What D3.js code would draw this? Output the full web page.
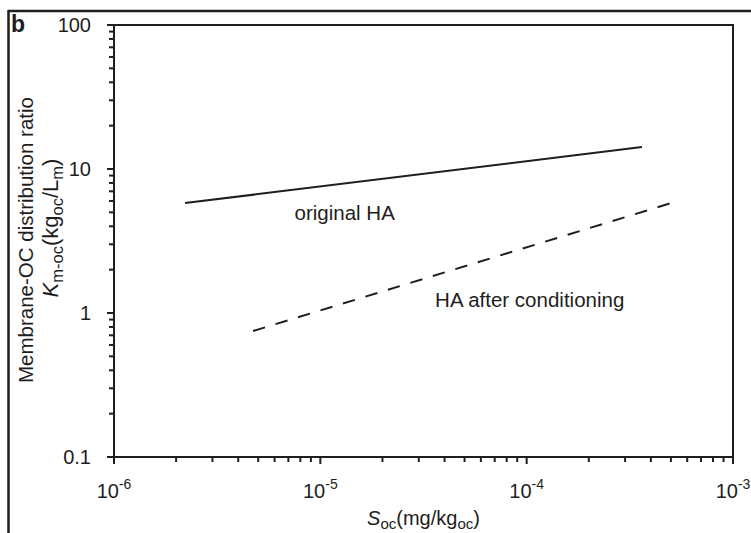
<!DOCTYPE html>
<html>
<head>
<meta charset="utf-8">
<script src="https://cdn.jsdelivr.net/npm/d3@7"></script>
<style>
  html, body { margin: 0; padding: 0; background: #fff; }
  svg { display: block; font-family: "Liberation Sans", Arial, Helvetica, sans-serif; }
</style>
</head>
<body>
<svg id="chart" width="751" height="533"></svg>
<script>
// ---- data ----
const xDomain = [1e-6, 1e-3];
const yDomain = [0.1, 100];
const xTickExponents = ["-6", "-5", "-4", "-3"];
const yTickLabels = ["0.1", "1", "10", "100"];

const seriesNames = ["original HA", "HA after conditioning"];
const originalX = [2.21e-6, 3.62e-4];
const originalY = [5.8, 14.2];
const conditionedX = [4.72e-6, 5.42e-4];
const conditionedY = [0.75, 6.0];

// annotation anchors in data units
const labelX = [7.5e-6, 3.6e-5];
const labelY = [4.43, 1.10];

// ---- layout ----
const svg = d3.select("#chart");
const L = 114, R = 733, T = 25, B = 457;
const ink = "#1e1e1e";
const x = d3.scaleLog().domain(xDomain).range([L, R]);
const y = d3.scaleLog().domain(yDomain).range([B, T]);

// outer panel frame (top and left)
svg.append("line").attr("x1", 8).attr("x2", 751).attr("y1", 11).attr("y2", 11)
  .attr("stroke", ink).attr("stroke-width", 2.5);
svg.append("line").attr("x1", 8.5).attr("x2", 8.5).attr("y1", 10).attr("y2", 533)
  .attr("stroke", ink).attr("stroke-width", 2.5);

// panel letter
svg.append("text").attr("x", 11).attr("y", 32).attr("font-size", 23)
  .attr("font-weight", "bold").attr("fill", ink).text("b");

// plot box
svg.append("rect").attr("x", L).attr("y", T).attr("width", R - L).attr("height", B - T)
  .attr("fill", "none").attr("stroke", ink).attr("stroke-width", 2);

const isMajor = v => Math.abs(Math.log10(v) - Math.round(Math.log10(v))) < 1e-9;

// y ticks
const yTicks = y.ticks();
svg.append("g").selectAll("line").data(yTicks).join("line")
  .attr("x1", d => isMajor(d) ? L - 7 : L - 5).attr("x2", L + 1)
  .attr("y1", d => y(d)).attr("y2", d => y(d))
  .attr("stroke", ink).attr("stroke-width", 2);
const yMajors = yTicks.filter(isMajor);
svg.append("g").selectAll("text").data(yMajors).join("text")
  .attr("x", 91).attr("y", d => y(d)).attr("dy", "0.36em")
  .attr("text-anchor", "end").attr("font-size", 20).attr("fill", ink)
  .text((d, i) => yTickLabels[i]);

// x ticks
const xTicks = x.ticks();
svg.append("g").selectAll("line").data(xTicks).join("line")
  .attr("y1", B - 1).attr("y2", d => isMajor(d) ? B + 7 : B + 5)
  .attr("x1", d => x(d)).attr("x2", d => x(d))
  .attr("stroke", ink).attr("stroke-width", 2);
const xMajors = xTicks.filter(isMajor);
const xl = svg.append("g").selectAll("text").data(xMajors).join("text")
  .attr("x", d => x(d)).attr("y", B + 41)
  .attr("text-anchor", "middle").attr("font-size", 20).attr("fill", ink);
xl.append("tspan").text("10");
xl.append("tspan").attr("font-size", 14).attr("dy", -9).text((d, i) => xTickExponents[i]);

// lines
const line = d3.line().x(d => x(d[0])).y(d => y(d[1]));
svg.append("path").datum(originalX.map((v, i) => [v, originalY[i]]))
  .attr("d", line).attr("fill", "none").attr("stroke", ink).attr("stroke-width", 2);
svg.append("path").datum(conditionedX.map((v, i) => [v, conditionedY[i]]))
  .attr("d", line).attr("fill", "none").attr("stroke", ink).attr("stroke-width", 2)
  .attr("stroke-dasharray", "12.5,11");

// annotations
svg.append("g").selectAll("text").data(seriesNames).join("text")
  .attr("x", (d, i) => x(labelX[i])).attr("y", (d, i) => y(labelY[i]))
  .attr("font-size", 20.5).attr("fill", ink).text(d => d);

// x axis title
const xt = svg.append("text").attr("x", (L + R) / 2).attr("y", 525)
  .attr("text-anchor", "middle").attr("font-size", 20).attr("fill", ink);
xt.append("tspan").attr("font-style", "italic").text("S");
xt.append("tspan").attr("font-size", 15).attr("dy", 4).text("oc");
xt.append("tspan").attr("dy", -4).text("(mg/kg");
xt.append("tspan").attr("font-size", 15).attr("dy", 4).text("oc");
xt.append("tspan").attr("dy", -4).text(")");

// y axis title (two lines, rotated)
svg.append("text").attr("transform", `translate(33,240) rotate(-90)`)
  .attr("text-anchor", "middle").attr("font-size", 20.5).attr("fill", ink)
  .text("Membrane-OC distribution ratio");
const yt = svg.append("text").attr("transform", `translate(58,228) rotate(-90)`)
  .attr("text-anchor", "middle").attr("font-size", 22).attr("fill", ink);
yt.append("tspan").attr("font-style", "italic").text("K");
yt.append("tspan").attr("font-size", 16.5).attr("dy", 5).text("m-oc");
yt.append("tspan").attr("dy", -5).text("(kg");
yt.append("tspan").attr("font-size", 16.5).attr("dy", 5).text("oc");
yt.append("tspan").attr("dy", -5).text("/L");
yt.append("tspan").attr("font-size", 16.5).attr("dy", 5).text("m");
yt.append("tspan").attr("dy", -5).text(")");
</script>
</body>
</html>
